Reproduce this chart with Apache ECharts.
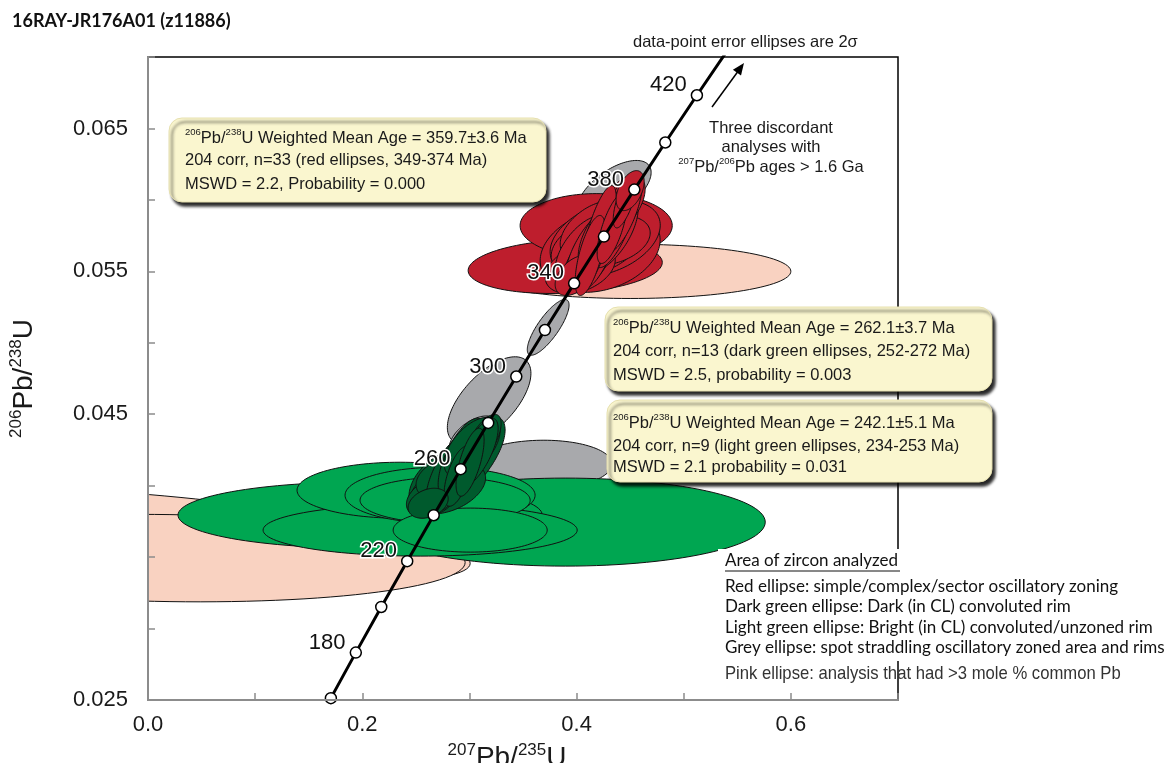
<!DOCTYPE html>
<html>
<head>
<meta charset="utf-8">
<script src="https://cdn.jsdelivr.net/npm/echarts@6/dist/echarts.min.js"></script>
<style>
html,body{margin:0;padding:0;background:#fff}
#chart{width:1174px;height:763px}
</style>
</head>
<body>
<div id="chart"></div>
<script>
// Concordia curve (207Pb/235U, 206Pb/238U) at 20 Ma steps
const concordiaAges = [160, 180, 200, 220, 240, 260, 280, 300, 320, 340, 360, 380, 400, 420, 440];
const concordiaX = [0.17068, 0.19396, 0.21771, 0.24193, 0.26664, 0.29183, 0.31753, 0.34374, 0.37047, 0.39773, 0.42553, 0.45389, 0.48281, 0.51231, 0.54239];
const concordiaY = [0.025131, 0.028316, 0.031511, 0.034717, 0.037932, 0.041157, 0.044392, 0.047637, 0.050893, 0.054158, 0.057434, 0.060720, 0.064016, 0.067322, 0.070638];
const markerAges = [160, 180, 200, 220, 240, 260, 280, 300, 320, 340, 360, 380, 400, 420];
const labelledAges = [180, 220, 260, 300, 340, 380, 420];

// Axis tick labels
const xTickLabels = ['0.0', '0.2', '0.4', '0.6'];
const yTickLabels = ['0.025', '0.045', '0.055', '0.065'];

// Error ellipses: [207Pb/235U, 206Pb/238U, 2s(x), 2s(y), rho]
const pinkEllipses = [
  [0.0299, 0.03654, 0.2708, 0.0033, -0.6],
  [0.0205, 0.03493, 0.2755, 0.00306, -0.1],
  [0.4500, 0.05500, 0.1500, 0.0019, 0.0]
];
const greyEllipses = [
  [0.4351, 0.06066, 0.0345, 0.00210, 0.6],
  [0.3735, 0.05108, 0.0195, 0.00195, 0.8],
  [0.3184, 0.04597, 0.0390, 0.00305, 0.62],
  [0.3660, 0.04143, 0.0672, 0.00175, 0.05],
  [0.3044, 0.04338, 0.0233, 0.00150, 0.5]
];
const lightGreenEllipses = [
  [0.3894, 0.03745, 0.1867, 0.00308, 0.0],
  [0.1980, 0.03794, 0.1700, 0.00231, 0.0],
  [0.2540, 0.03689, 0.1466, 0.00182, 0.0],
  [0.2353, 0.03968, 0.0962, 0.00196, 0.0],
  [0.2726, 0.03933, 0.0887, 0.00196, 0.0],
  [0.2773, 0.03898, 0.0794, 0.00161, 0.0],
  [0.3007, 0.03689, 0.0719, 0.00154, 0.0]
];
const darkGreenEllipses = [
  [0.2960, 0.04164, 0.0373, 0.00322, 0.7],
  [0.2726, 0.04024, 0.0290, 0.00215, 0.45],
  [0.2801, 0.03982, 0.0350, 0.00180, 0.4],
  [0.2652, 0.03919, 0.0240, 0.00140, 0.35],
  [0.2782, 0.04052, 0.0280, 0.00150, 0.3],
  [0.2838, 0.04094, 0.0243, 0.00280, 0.65],
  [0.2932, 0.04192, 0.0224, 0.00280, 0.65],
  [0.3025, 0.04269, 0.0261, 0.00210, 0.55],
  [0.3128, 0.04317, 0.0168, 0.00182, 0.65],
  [0.3081, 0.04234, 0.0187, 0.00238, 0.7],
  [0.2894, 0.04066, 0.0131, 0.00210, 0.6],
  [0.3006, 0.04164, 0.0131, 0.00238, 0.65],
  [0.2615, 0.03877, 0.0187, 0.00105, 0.3]
];
const redEllipses = [
  [0.3894, 0.05534, 0.0906, 0.00189, 0.15],
  [0.4183, 0.05820, 0.0710, 0.00224, 0.0],
  [0.4220, 0.05647, 0.0560, 0.00294, 0.25],
  [0.4267, 0.05730, 0.0514, 0.00266, 0.35],
  [0.4183, 0.05681, 0.0420, 0.00210, 0.35],
  [0.4314, 0.05716, 0.0373, 0.00175, 0.3],
  [0.4174, 0.05785, 0.0327, 0.00210, 0.45],
  [0.4034, 0.05520, 0.0327, 0.00175, 0.35],
  [0.4080, 0.05647, 0.0280, 0.00245, 0.55],
  [0.4080, 0.05563, 0.0205, 0.00210, 0.55],
  [0.4155, 0.05647, 0.0261, 0.00294, 0.65],
  [0.4295, 0.05771, 0.0280, 0.00280, 0.6],
  [0.4407, 0.05960, 0.0233, 0.00210, 0.55],
  [0.3987, 0.05471, 0.0187, 0.00140, 0.45],
  [0.4220, 0.05716, 0.0205, 0.00336, 0.7],
  [0.4360, 0.05841, 0.0205, 0.00315, 0.7],
  [0.4426, 0.05911, 0.0187, 0.00280, 0.7],
  [0.4202, 0.05750, 0.0168, 0.00350, 0.75],
  [0.4127, 0.05611, 0.0140, 0.00280, 0.65],
  [0.4332, 0.05800, 0.0140, 0.00245, 0.7],
  [0.4454, 0.06000, 0.0112, 0.00196, 0.7],
  [0.4500, 0.06065, 0.0131, 0.00140, 0.45]
];

const ARIAL = '"Liberation Sans", Arial, sans-serif';
const CAL = 'Lato, "Open Sans", sans-serif';

function ellipseSeries(name, data, color, z) {
  return {
    name: name,
    type: 'custom',
    z: z,
    silent: true,
    dimensions: ['x', 'y', 'sx', 'sy', 'rho'],
    encode: { x: 'x', y: 'y' },
    data: data,
    renderItem: function (params, api) {
      const cx = api.value(0), cy = api.value(1);
      const sx = api.value(2), sy = api.value(3), r = api.value(4);
      const k = Math.sqrt(1 - r * r);
      const pts = [];
      for (let i = 0; i < 120; i++) {
        const t = i / 120 * Math.PI * 2;
        const u = Math.cos(t), v = Math.sin(t);
        pts.push(api.coord([cx + sx * u, cy + sy * (r * u + k * v)]));
      }
      const cs = params.coordSys;
      return {
        type: 'polygon',
        shape: { points: pts },
        style: { fill: color, stroke: '#111', lineWidth: 1 },
        clipPath: { type: 'rect', shape: { x: cs.x, y: cs.y, width: cs.width, height: cs.height } }
      };
    }
  };
}

function pickLabel(list, v) {
  for (const s of list) {
    if (Math.abs(Number(s) - v) < 1e-9) return s;
  }
  return '';
}

const supRich = {
  t: { fontFamily: ARIAL, fontSize: 16.5, fill: '#1a1a1a', color: '#1a1a1a', lineHeight: 20, verticalAlign: 'bottom' },
  s: { fontFamily: ARIAL, fontSize: 9.5, fill: '#1a1a1a', color: '#1a1a1a', lineHeight: 14, verticalAlign: 'top' }
};

function richText(x, y, text, align) {
  return {
    type: 'text', x: x, y: y, z: 120,
    style: { text: text, rich: supRich, font: '16.5px ' + ARIAL, fill: '#1a1a1a', align: align || 'left', verticalAlign: 'middle' }
  };
}
function plainText(x, y, text, font, fill, align) {
  return {
    type: 'text', x: x, y: y, z: 120,
    style: { text: text, font: font, fill: fill || '#1a1a1a', align: align || 'left', verticalAlign: 'middle' }
  };
}
function box(x, y, w, h) {
  return {
    type: 'rect', z: 110,
    shape: { x: x, y: y, width: w, height: h, r: 13 },
    style: { fill: '#faf6cf', stroke: '#e6e0b0', lineWidth: 1, shadowBlur: 3, shadowOffsetX: 3, shadowOffsetY: 4, shadowColor: 'rgba(0,0,0,0.85)' }
  };
}

const chart = echarts.init(document.getElementById('chart'), null, { renderer: 'canvas' });

const option = {
  backgroundColor: '#ffffff',
  animation: false,
  grid: {
    left: 148, right: 276, top: 57, bottom: 63,
    outerBoundsMode: 'none', containLabel: false,
    show: true, borderColor: '#000', borderWidth: 1.5, backgroundColor: 'transparent'
  },
  xAxis: {
    type: 'value', min: 0, max: 0.7, interval: 0.1, z: 10,
    axisLine: { lineStyle: { color: '#8c8c8c', width: 2 } },
    axisTick: { inside: true, length: 7, lineStyle: { color: '#8c8c8c', width: 1.5 } },
    splitLine: { show: false },
    axisLabel: {
      margin: 14, fontFamily: ARIAL, fontSize: 22, color: '#1a1a1a',
      formatter: v => pickLabel(xTickLabels, v)
    },
    name: '{s|207}{b|Pb/}{s|235}{b|U}',
    nameLocation: 'middle', nameGap: 42,
    nameTextStyle: {
      padding: [0, 32, 0, 0],
      rich: {
        b: { fontFamily: ARIAL, fontSize: 28, color: '#1a1a1a', lineHeight: 30, verticalAlign: 'bottom' },
        s: { fontFamily: ARIAL, fontSize: 17, color: '#1a1a1a', lineHeight: 22, verticalAlign: 'top' }
      }
    }
  },
  yAxis: {
    type: 'value', min: 0.025, max: 0.07, interval: 0.005, z: 10,
    axisLine: { lineStyle: { color: '#8c8c8c', width: 2 } },
    axisTick: { inside: true, length: 7, lineStyle: { color: '#8c8c8c', width: 1.5 } },
    splitLine: { show: false },
    axisLabel: {
      margin: 20, fontFamily: ARIAL, fontSize: 22, color: '#1a1a1a',
      formatter: v => pickLabel(yTickLabels, v)
    },
    name: '{s|206}{b|Pb/}{s|238}{b|U}',
    nameLocation: 'middle', nameGap: 110,
    nameTextStyle: {
      rich: {
        b: { fontFamily: ARIAL, fontSize: 28, color: '#1a1a1a', lineHeight: 30, verticalAlign: 'bottom' },
        s: { fontFamily: ARIAL, fontSize: 17, color: '#1a1a1a', lineHeight: 22, verticalAlign: 'top' }
      }
    }
  },
  series: [
    ellipseSeries('pink', pinkEllipses, '#f9d2c1', 2),
    ellipseSeries('grey', greyEllipses, '#a8a9ac', 3),
    ellipseSeries('lightGreen', lightGreenEllipses, '#00a651', 4),
    ellipseSeries('darkGreen', darkGreenEllipses, '#005a2d', 5),
    ellipseSeries('red', redEllipses, '#be1e2d', 6),
    {
      type: 'line', z: 7, silent: true, symbol: 'none', clip: true,
      data: concordiaAges.map((a, i) => [concordiaX[i], concordiaY[i]]),
      lineStyle: { color: '#000', width: 3 }
    },
    {
      type: 'scatter', z: 8, silent: true,
      symbol: 'circle', symbolSize: 11,
      itemStyle: { color: '#fff', borderColor: '#000', borderWidth: 1.5, opacity: 1 },
      data: markerAges.map(a => {
        const i = concordiaAges.indexOf(a);
        return [concordiaX[i], concordiaY[i], a];
      }),
      label: {
        show: true, position: 'left', distance: 4, offset: [0, -10],
        fontFamily: ARIAL, fontSize: 22, color: '#111',
        textBorderColor: '#fff', textBorderWidth: 3,
        formatter: p => labelledAges.includes(p.value[2]) ? String(p.value[2]) : ''
      }
    }
  ],
  graphic: [
    plainText(12, 21, '16RAY-JR176A01 (z11886)', 'bold 18px ' + CAL, '#111'),
    plainText(633, 42, 'data-point error ellipses are 2σ', '16.5px ' + ARIAL, '#1a1a1a'),

    // discordant note and arrow
    plainText(771, 128, 'Three discordant', '16.5px ' + ARIAL, '#1a1a1a', 'center'),
    plainText(771, 147, 'analyses with', '16.5px ' + ARIAL, '#1a1a1a', 'center'),
    richText(771, 166, '{s|207}{t|Pb/}{s|206}{t|Pb ages > 1.6 Ga}', 'center'),
    { type: 'line', z: 120, shape: { x1: 712, y1: 107, x2: 739, y2: 70 }, style: { stroke: '#000', lineWidth: 1.5 } },
    { type: 'polygon', z: 120, shape: { points: [[744, 63], [741, 75.6], [732.9, 69.8]] }, style: { fill: '#000' } },

    // weighted mean boxes
    box(169, 118, 377, 84),
    richText(185, 137, '{s|206}{t|Pb/}{s|238}{t|U Weighted Mean Age = 359.7±3.6 Ma}'),
    plainText(185, 160, '204 corr, n=33 (red ellipses, 349-374 Ma)', '16.5px ' + ARIAL),
    plainText(185, 184, 'MSWD = 2.2, Probability = 0.000', '16.5px ' + ARIAL),

    box(605, 307, 387, 84),
    richText(613, 327, '{s|206}{t|Pb/}{s|238}{t|U Weighted Mean Age = 262.1±3.7 Ma}'),
    plainText(613, 351, '204 corr, n=13 (dark green ellipses, 252-272 Ma)', '16.5px ' + ARIAL),
    plainText(613, 375, 'MSWD = 2.5, probability = 0.003', '16.5px ' + ARIAL),

    box(607, 400, 385, 82),
    richText(613, 422, '{s|206}{t|Pb/}{s|238}{t|U Weighted Mean Age = 242.1±5.1 Ma}'),
    plainText(613, 446, '204 corr, n=9 (light green ellipses, 234-253 Ma)', '16.5px ' + ARIAL),
    plainText(613, 467, 'MSWD = 2.1 probability = 0.031', '16.5px ' + ARIAL),

    // legend of zircon domains
    { type: 'rect', z: 105, shape: { x: 718, y: 549, width: 456, height: 112 }, style: { fill: '#fff' } },
    plainText(725, 561, 'Area of zircon analyzed', '17px ' + CAL, '#111'),
    { type: 'line', z: 120, shape: { x1: 725, y1: 571, x2: 900, y2: 571 }, style: { stroke: '#111', lineWidth: 1 } },
    plainText(725, 587, 'Red ellipse: simple/complex/sector oscillatory zoning', '17px ' + CAL, '#111'),
    plainText(725, 607, 'Dark green ellipse: Dark (in CL) convoluted rim', '17px ' + CAL, '#111'),
    plainText(725, 628, 'Light green ellipse: Bright (in CL) convoluted/unzoned rim', '17px ' + CAL, '#111'),
    plainText(725, 648, 'Grey ellipse: spot straddling oscillatory zoned area and rims', '17px ' + CAL, '#111'),
    {
      type: 'text', x: 725, y: 674, z: 120, scaleX: 0.9,
      style: { text: 'Pink ellipse: analysis that had >3 mole % common Pb', font: '18.5px ' + ARIAL, fill: '#333', align: 'left', verticalAlign: 'middle' }
    }
  ]
};

chart.setOption(option);
</script>
</body>
</html>
